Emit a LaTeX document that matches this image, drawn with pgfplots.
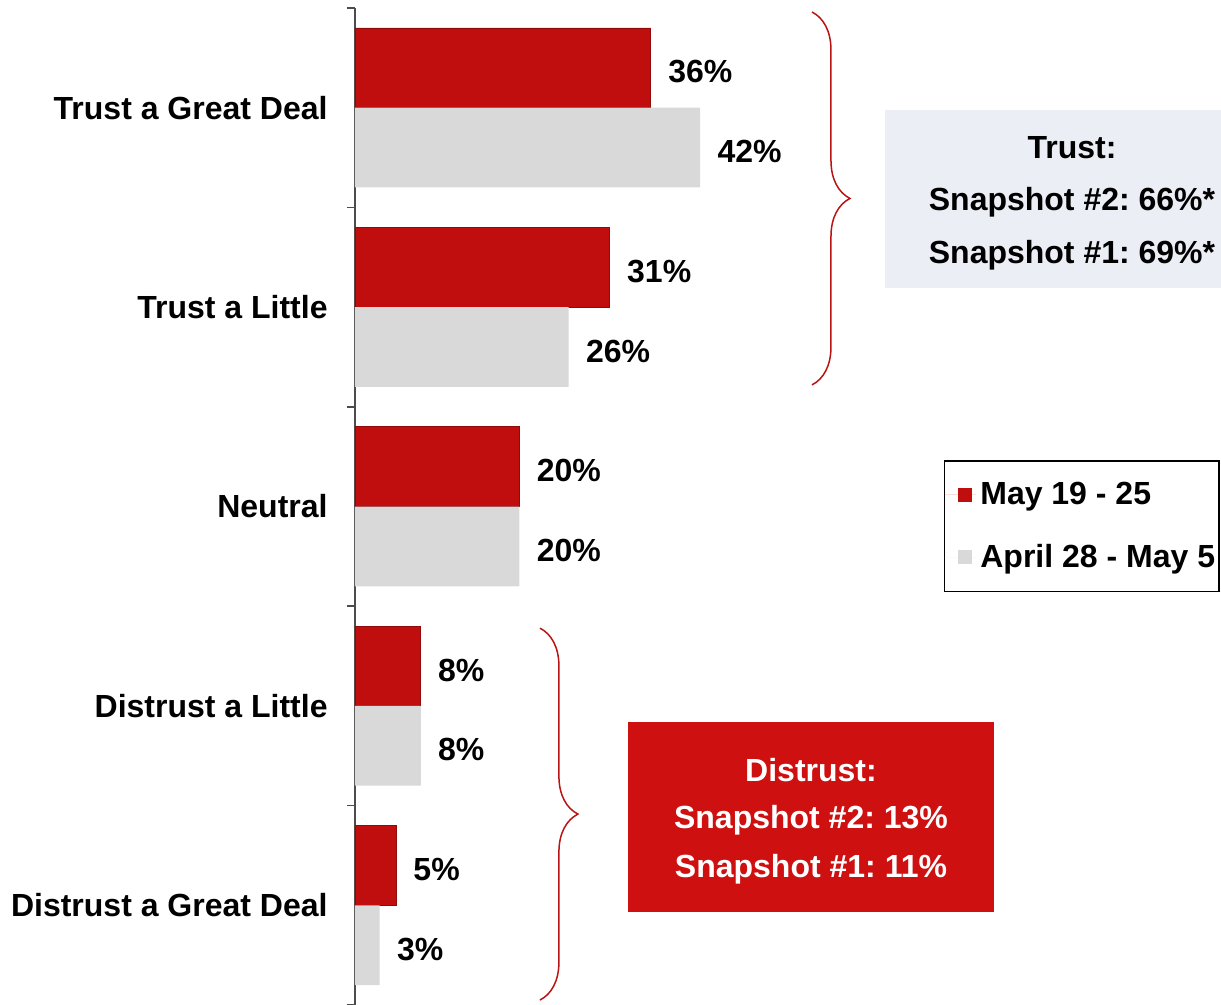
\documentclass[border=0pt]{standalone}
\usepackage{pgfplots}
\pgfplotsset{compat=1.18}
\usepackage{fontspec}
\setmainfont{Liberation Sans}
\usetikzlibrary{decorations.pathreplacing}
\frenchspacing

\definecolor{barred}{RGB}{192,14,14}
\definecolor{bargray}{RGB}{217,217,217}
\definecolor{bracered}{RGB}{185,20,20}
\definecolor{trustbox}{RGB}{235,239,245}
\definecolor{distbox}{RGB}{206,16,16}

\newcommand{\lbl}{\fontsize{16}{19}\selectfont\bfseries}

\begin{document}
\begin{tikzpicture}
% 1 px of the reference = 0.5pt
\begin{axis}[
  at={(177.5pt,-502.5pt)}, anchor=south west,
  scale only axis, width=431.5pt, height=498.5pt,
  xbar, bar width=0.4,
  xmin=0, xmax=105,
  ymin=-0.5, ymax=4.5, y dir=reverse,
  hide x axis,
  axis y line*=left,
  y axis line style={line width=0.75pt, black!70},
  ytick={0,...,4},
  yticklabels={Trust a Great Deal, Trust a Little, Neutral, Distrust a Little, Distrust a Great Deal},
  major tick length=0pt,
  minor ytick={-0.5,0.5,...,4.5},
  minor tick length=4pt,
  tick align=outside,
  minor tick style={black!70, line width=0.75pt},
  yticklabel style={font=\lbl, inner sep=0pt, xshift=-13.5pt},
  /pgf/number format/assume math mode=true,
  nodes near coords={\pgfmathprintnumber{\pgfplotspointmeta}\%},
  point meta=x,
  nodes near coords style={font=\lbl, anchor=west, inner sep=0pt, xshift=8.5pt, yshift=-2pt},
  clip=false,
  legend style={at={(1.0022,0.5466)}, anchor=north east, font=\lbl,
    draw=black, line width=0.8pt, inner xsep=0pt, inner ysep=8.5pt,
    row sep=14.5pt, cells={anchor=west}},
  legend image code/.code={\fill[#1, draw=none] (7pt,-3.5pt) rectangle (14pt,3.5pt);
    \path[draw=none] (0pt,0pt) -- (16pt,0pt);},
]
\addplot[xbar, bar shift=-0.2, fill=barred, draw=barred!75!black, line width=0.4pt]
  coordinates {(36,0) (31,1) (20,2) (8,3) (5,4)};
\addplot[xbar, bar shift=0.2, fill=bargray, draw=none]
  coordinates {(42,0) (26,1) (20,2) (8,3) (3,4)};
\legend{May 19 - 25, April 28 - May 5}

\draw[decorate, decoration={brace, amplitude=19pt}, bracered, line width=0.75pt]
  (axis cs:55.6,-0.48) -- (axis cs:55.6,1.39);
\draw[decorate, decoration={brace, amplitude=19pt}, bracered, line width=0.75pt]
  (axis cs:22.5,2.61) -- (axis cs:22.5,4.475);
\end{axis}

% Trust summary box
\fill[trustbox] (442.5pt,-55pt) rectangle (610.5pt,-144pt);
\node[font=\lbl] at (536pt,-74pt) {Trust:};
\node[font=\lbl] at (536pt,-101pt) {Snapshot \#2: 66\%*};
\node[font=\lbl] at (536pt,-127.5pt) {Snapshot \#1: 69\%*};

% Distrust summary box
\fill[distbox] (314pt,-361pt) rectangle (497pt,-456pt);
\node[font=\lbl, text=white] at (405.5pt,-385pt) {Distrust:};
\node[font=\lbl, text=white] at (405.5pt,-410pt) {Snapshot \#2: 13\%};
\node[font=\lbl, text=white] at (405.5pt,-434.5pt) {Snapshot \#1: 11\%};

\pgfresetboundingbox
\path[use as bounding box] (0pt,0pt) rectangle (610.5pt,-502.5pt);
\end{tikzpicture}
\end{document}
